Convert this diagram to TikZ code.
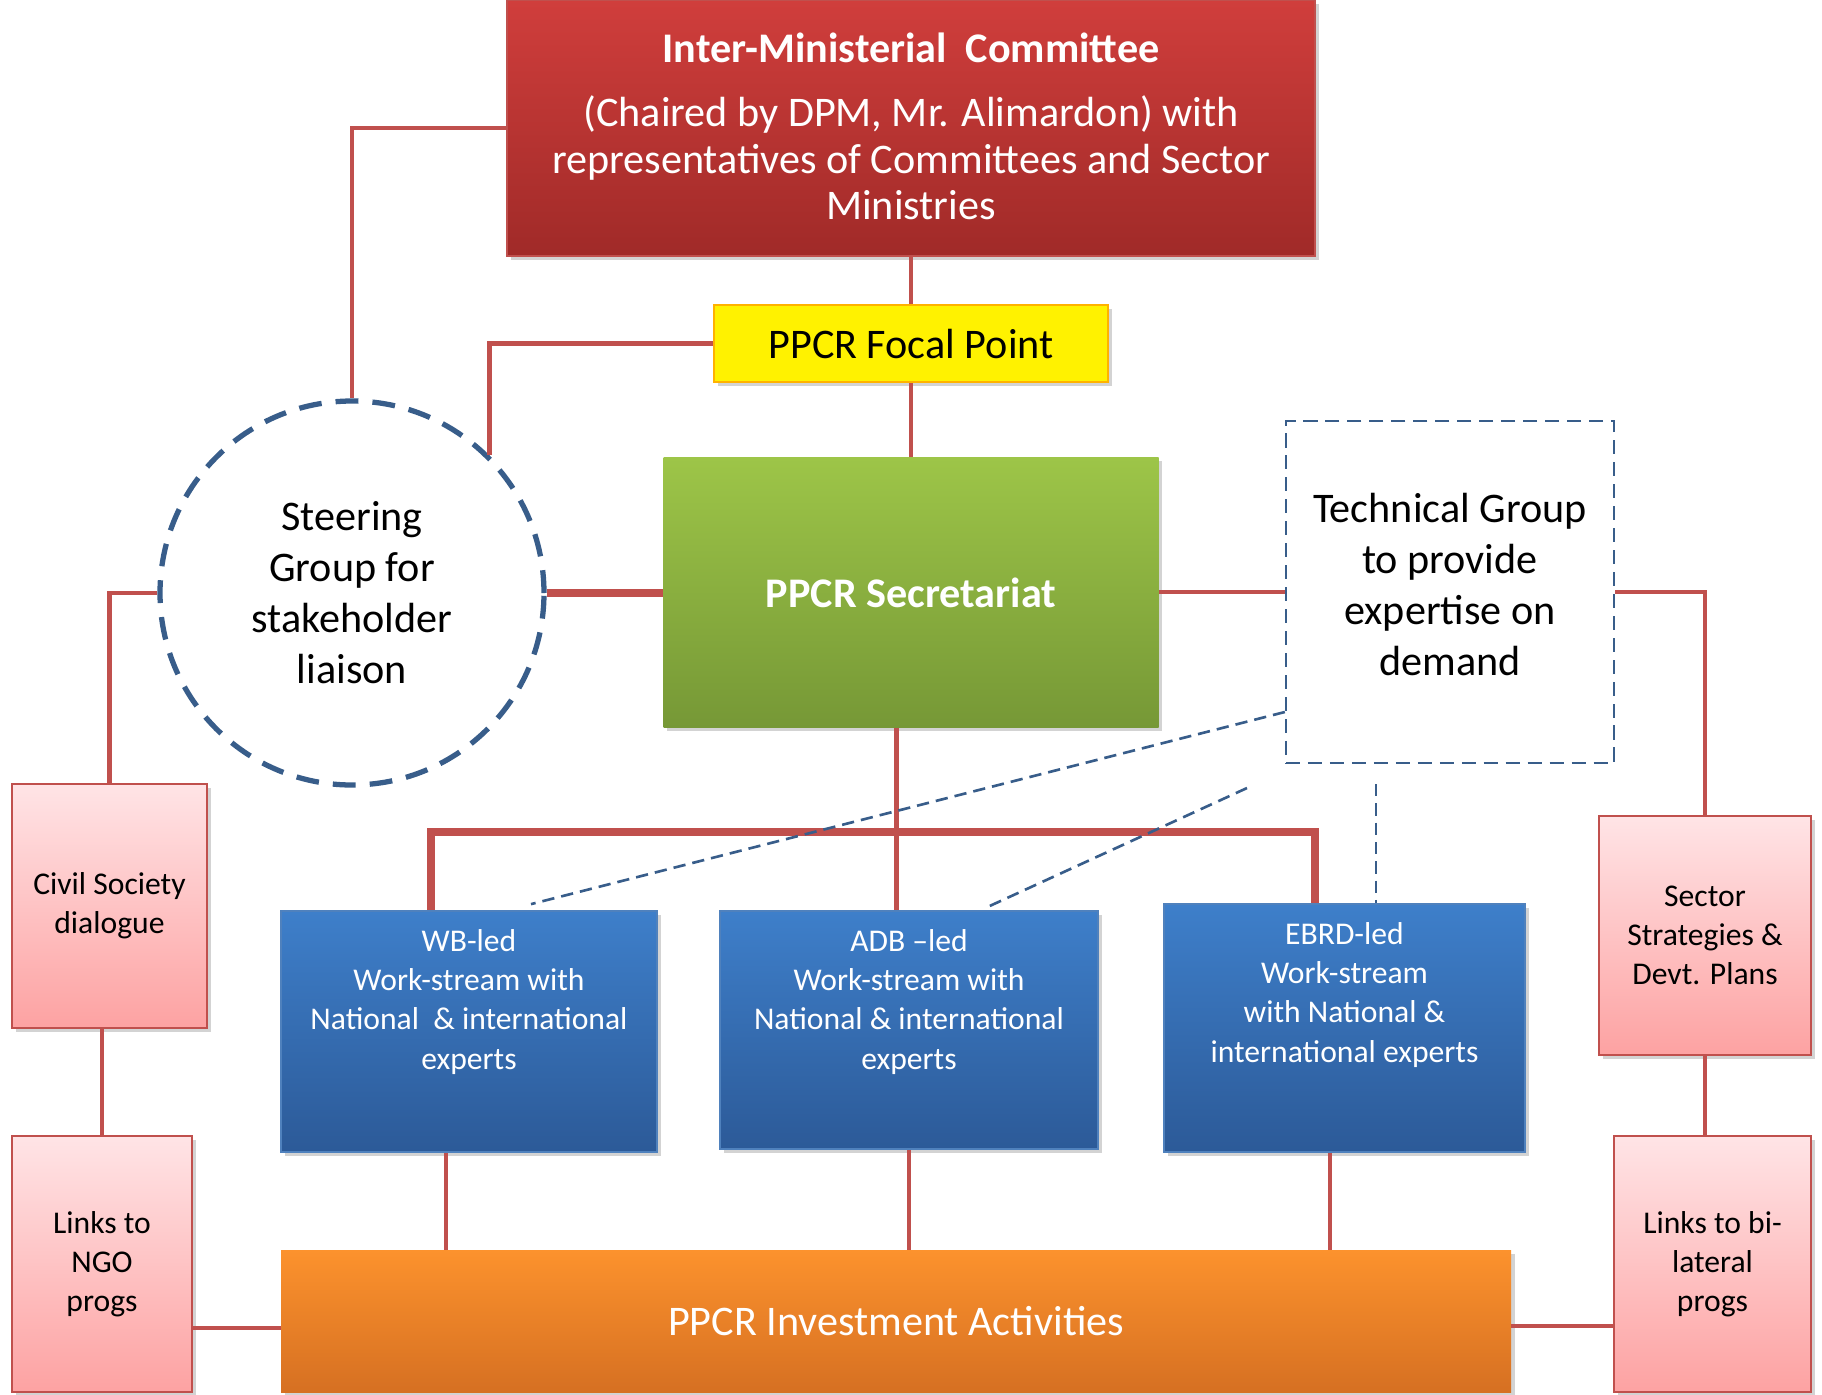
\documentclass[tikz,border=0pt]{standalone}
\usepackage{fontspec}
\setmainfont{Carlito}
\usepackage{tikz}
\usetikzlibrary{positioning}
\usetikzlibrary{shadows}
\usetikzlibrary{calc}

\definecolor{linkred}{RGB}{192,80,77}
\definecolor{dashblue}{RGB}{56,93,138}
\definecolor{imctop}{RGB}{208,62,60}
\definecolor{imcbot}{RGB}{160,42,40}
\definecolor{secrtop}{RGB}{157,197,72}
\definecolor{secrbot}{RGB}{118,152,54}
\definecolor{wstop}{RGB}{62,127,202}
\definecolor{wsbot}{RGB}{44,90,152}
\definecolor{wsline}{RGB}{79,129,189}
\definecolor{invtop}{RGB}{252,146,45}
\definecolor{invbot}{RGB}{214,112,34}
\definecolor{pinktop}{RGB}{255,228,230}
\definecolor{pinkbot}{RGB}{253,162,162}

\begin{document}
\begin{tikzpicture}[font=\fontsize{24}{29}\selectfont]
  \tikzstyle{shade}=[drop shadow={shadow xshift=2pt, shadow yshift=-2pt, opacity=0.35}]
  \tikzstyle{tbox}=[shade, rectangle, top color=imctop, bottom color=imcbot, draw=linkred, line width=1pt, text=white, align=center, minimum width=16.16cm, minimum height=5.12cm, font=\fontsize{24}{26.5}\selectfont, text depth=2pt]
  \tikzstyle{ybox}=[shade, rectangle, fill=yellow, draw=orange!60!yellow, line width=1pt, align=center, minimum width=7.88cm, minimum height=1.54cm]
  \tikzstyle{gbox}=[shade, rectangle, top color=secrtop, bottom color=secrbot, text=white, align=center, minimum width=9.9cm, minimum height=5.4cm, font=\fontsize{24}{29}\selectfont\bfseries]
  \tikzstyle{bbox}=[shade, rectangle, top color=wstop, bottom color=wsbot, draw=wsline, line width=1pt, text=white, inner sep=0pt, font=\fontsize{18}{22.3}\selectfont]
  \tikzstyle{obox}=[shade, rectangle, top color=invtop, bottom color=invbot, text=white, align=center, minimum width=24.6cm, minimum height=2.84cm]
  \tikzstyle{pbox}=[shade, rectangle, top color=pinktop, bottom color=pinkbot, draw=linkred, line width=1.4pt, align=center, font=\fontsize{18}{22.3}\selectfont]
  \tikzstyle{dbox}=[rectangle, fill=white, draw=dashblue, line width=1.3pt, dash pattern=on 8pt off 4.5pt, align=center, minimum width=6.56cm, minimum height=6.84cm, text depth=9pt]
  \tikzstyle{circ}=[circle, draw=dashblue, line width=3pt, dash pattern=on 13pt off 8pt, align=center, minimum size=7.68cm]
  \tikzstyle{link}=[draw=linkred, line width=2.6pt]
  \tikzstyle{blink}=[draw=linkred, line width=4.5pt]
  \tikzstyle{dlink}=[draw=dashblue, line width=1.5pt, dash pattern=on 7pt off 4pt]

  \useasboundingbox (0,0) rectangle (36.44,-27.88);

  % top of the structure
  \node (imc) [tbox] at (18.22,-2.56) {\textbf{Inter-Ministerial~ Committee}\\[10pt](Chaired by DPM, Mr. Alimardon) with\\representatives of Committees and Sector\\Ministries};
  \node (focal) [ybox, below=0.95cm of imc] {PPCR Focal Point};
  \node (secr) [gbox, below=1.48cm of focal] {PPCR Secretariat};
  \node (steer) [circ] at (7.04,-11.86) {Steering\\Group for\\stakeholder\\liaison};
  \node (tech) [dbox] at (29.0,-11.84) {Technical Group\\to provide\\expertise on\\demand};

  % work-streams
  \node (wb) [bbox, minimum width=7.52cm, minimum height=4.82cm] at (9.38,-20.63) {\parbox[c][4.5cm][t]{7.3cm}{\centering\vspace{6pt}WB-led\\Work-stream with\\National~ \& international\\experts}};
  \node (adb) [bbox, minimum width=7.56cm, minimum height=4.76cm] at (18.18,-20.6) {\parbox[c][4.44cm][t]{7.3cm}{\centering\vspace{6pt}ADB --led\\Work-stream with\\National \& international\\experts}};
  \node (ebrd) [bbox, minimum width=7.22cm, minimum height=4.96cm] at (26.89,-20.56) {\parbox[c][4.64cm][t]{7cm}{\centering\vspace{6pt}EBRD-led\\Work-stream\\with National \&\\international experts}};
  \node (invest) [obox] at (17.92,-26.42) {PPCR Investment Activities};

  % side boxes
  \node (civil) [pbox, minimum width=3.9cm, minimum height=4.88cm] at (2.19,-18.12) {Civil Society\\dialogue};
  \node (ngo) [pbox, minimum width=3.6cm, minimum height=5.12cm] at (2.04,-25.28) {Links to\\NGO\\progs};
  \node (sector) [pbox, minimum width=4.24cm, minimum height=4.78cm] at (34.1,-18.71) {Sector\\Strategies \&\\Devt. Plans};
  \node (bilat) [pbox, minimum width=3.94cm, minimum height=5.12cm] at (34.25,-25.28) {Links to bi-\\lateral\\progs};

  \coordinate (busL) at (8.62,-16.64);
  \coordinate (busR) at (26.3,-16.64);
  \coordinate (d1) at (24.94,-15.76);
  \coordinate (d2) at (27.52,-15.68);

  \draw[link] (imc.west) -| (steer.north);
  \draw[link] (focal.west) -| (steer.45);
  \draw[link] (imc.south) -- (focal.north);
  \draw[link] (focal.south) -- (secr.north);
  \draw[blink] (steer.east) -- (steer.east -| secr.west);
  \draw[link] (tech.west) -- (tech.west -| secr.east);
  \draw[link] (tech.east) -| (sector.north);
  \draw[link] (steer.west) -| (civil.north);
  \draw[link] (ngo.north) -- (ngo.north |- civil.south);
  \draw[link] (sector.south) -- (sector.south |- bilat.north);
  \draw[link] ([yshift=-0.14cm]invest.west) -- ([yshift=-0.14cm]invest.west -| ngo.east);
  \draw[link] ([yshift=-0.1cm]invest.east) -- ([yshift=-0.1cm]invest.east -| bilat.west);
  \draw[link] ([xshift=-0.29cm]secr.south) -- ([xshift=-0.29cm]secr.south |- adb.north);
  \draw[blink] (wb.north -| busL) -- (busL) -- (busR) -- (busR |- ebrd.north);
  \draw[link] ([xshift=-0.46cm]wb.south) -- ([xshift=-0.46cm]wb.south |- invest.north);
  \draw[link] (adb.south) -- (adb.south |- invest.north);
  \draw[link] ([xshift=-0.29cm]ebrd.south) -- ([xshift=-0.29cm]ebrd.south |- invest.north);

  \draw[dlink] ([yshift=-2.4cm]tech.west) -- ([xshift=1.24cm,yshift=0.12cm]wb.north);
  \draw[dlink] (d1) -- ([xshift=1.52cm,yshift=0.04cm]adb.north);
  \draw[dlink] (d2) -- (d2 |- ebrd.north);
\end{tikzpicture}
\end{document}
